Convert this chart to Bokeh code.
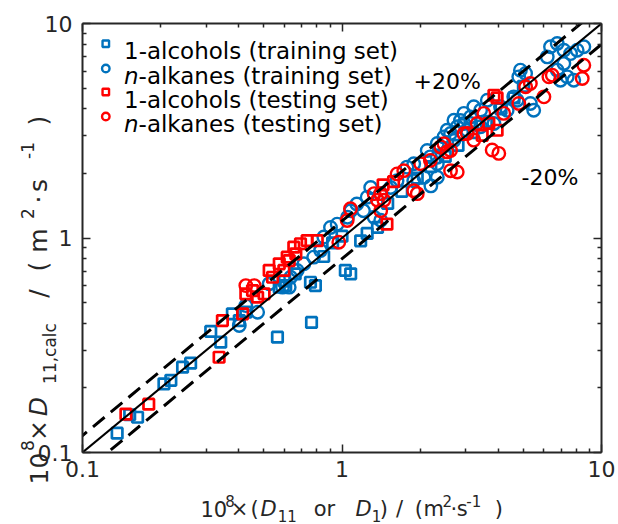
import math
from bokeh.plotting import figure
from bokeh.layouts import column
from bokeh.models import FixedTicker, CustomJSTickFormatter, LogAxis, Range1d
from bokeh.core.properties import value
from bokeh.embed import file_html
from bokeh.resources import INLINE

# ---------------- data (10^8 x D, m^2/s) ----------------
# 1-alcohols, training set
alc_train_x = [0.136, 0.152, 0.163, 0.206, 0.219, 0.243, 0.261, 0.312, 0.341, 0.378, 0.402, 0.426,
               0.564, 0.573, 0.607, 0.600, 0.660, 0.763, 0.756, 0.790, 1.03, 1.08, 0.85, 0.92, 1.00,
               1.18, 1.25, 1.37, 1.50, 1.70, 1.95, 2.20, 2.50, 2.80, 3.20, 3.60, 4.10, 4.60, 5.00]
alc_train_y = [0.123, 0.150, 0.146, 0.209, 0.217, 0.250, 0.261, 0.367, 0.327, 0.443, 0.412, 0.451,
               0.345, 0.590, 0.600, 0.630, 0.680, 0.404, 0.622, 0.600, 0.706, 0.681, 0.82, 0.95, 1.02,
               0.97, 1.05, 1.12, 1.45, 1.65, 1.90, 2.15, 2.40, 2.70, 3.10, 3.50, 4.00, 4.50, 5.10]

# n-alkanes, training set
alk_train_x = [0.402, 0.426, 0.473, 0.524, 0.590, 0.626, 0.634, 0.672, 0.713, 0.778, 0.827, 0.851,
               0.903, 0.958, 1.05, 1.08, 1.14, 1.21, 1.25, 1.29, 1.33, 1.41, 1.41, 1.54, 1.63, 1.78,
               1.89, 1.89, 2.07, 2.20, 2.33, 2.13, 2.33, 2.40, 2.70, 2.86, 3.04, 2.19, 2.33, 2.33,
               2.47, 2.54, 2.62, 2.70, 2.78, 2.95, 2.95, 3.13, 3.13, 3.22, 3.42, 3.42, 3.63, 3.85,
               4.08, 4.33, 4.59, 4.73, 5.32, 5.48, 4.80, 4.87, 5.10, 6.18, 6.36, 6.75, 7.16, 7.60,
               8.06, 8.55, 7.16, 6.75, 7.38, 7.82, 6.95]
alk_train_y = [0.391, 0.484, 0.451, 0.612, 0.590, 0.590, 0.656, 0.706, 0.758, 0.814, 0.874, 1.01,
               1.12, 1.16, 1.25, 1.34, 1.44, 1.34, 1.55, 1.72, 1.25, 1.21, 1.61, 1.72, 1.85, 2.14,
               2.22, 1.85, 1.92, 1.75, 1.92, 2.56, 2.38, 2.65, 2.85, 3.53, 3.17, 2.39, 2.22, 2.76,
               2.96, 3.18, 3.07, 3.54, 3.30, 3.42, 3.81, 3.67, 3.42, 4.09, 3.94, 3.30, 4.39, 3.42,
               4.09, 3.94, 4.55, 4.39, 4.24, 3.94, 5.64, 6.06, 5.85, 6.99, 7.79, 8.07, 7.51, 7.24,
               7.51, 7.79, 6.51, 6.06, 5.64, 5.44, 5.44]

# 1-alcohols, testing set
alc_test_x = [0.147, 0.180, 0.336, 0.346, 0.414, 0.426, 0.452, 0.473, 0.501, 0.524, 0.573, 0.626,
              0.664, 0.540, 0.615, 0.652, 0.692, 0.734, 0.803, 0.597, 1.49, 1.44, 1.58, 3.85, 3.47,
              3.96, 3.68, 3.96]
alc_test_y = [0.151, 0.168, 0.278, 0.412, 0.443, 0.549, 0.569, 0.530, 0.549, 0.706, 0.758, 0.785,
              0.844, 0.656, 0.814, 0.906, 0.940, 0.973, 0.973, 0.706, 1.16, 1.77, 1.83, 4.63, 3.01,
              3.18, 3.42, 4.50]

# n-alkanes, testing set
alk_test_x = [0.426, 0.459, 0.972, 1.047, 1.078, 1.37, 1.41, 1.33, 1.41, 1.45, 1.63, 1.73, 1.89,
              1.95, 2.01, 2.19, 2.62, 2.78, 2.47, 2.62, 2.95, 3.79, 4.02, 2.40, 2.54, 3.04, 3.32,
              3.22, 3.52, 4.20, 4.80, 5.10, 5.32, 6.00, 6.27, 6.46, 8.43, 8.55]
alk_test_y = [0.600, 0.600, 0.956, 1.206, 1.368, 1.50, 1.34, 1.61, 1.61, 1.50, 1.99, 2.06, 1.66,
              1.61, 2.22, 2.30, 2.06, 2.03, 2.75, 2.56, 3.06, 2.57, 2.48, 2.66, 2.52, 3.07, 3.42,
              2.86, 3.81, 3.81, 4.24, 5.07, 5.25, 4.55, 5.64, 5.74, 5.54, 6.39]

series_labels = ["1-alcohols (training set)", "n-alkanes (training set)",
                 "1-alcohols (testing set)", "n-alkanes (testing set)"]

major_ticks = [0.1, 1, 10]
minor_ticks = [0.2, 0.3, 0.4, 0.5, 0.6, 0.7, 0.8, 0.9, 2, 3, 4, 5, 6, 7, 8, 9]
parity_x = [0.05, 20]
band = 0.2  # +/-20 %

# ---------------- styling / layout ----------------
FONT = "DejaVu Sans"
BLUE = "#0072BD"
RED = "#FF0000"
INK = "#262626"
W, H = 618, 524
FL, FR, FT, FB = 82, 601, 23, 452   # frame edges in canvas px

p = figure(width=W, height=H, x_axis_type="log", y_axis_type="log",
           x_range=Range1d(0.1, 10), y_range=Range1d(0.1, 10),
           output_backend="svg", toolbar_location=None,
           min_border_left=FL, min_border_right=W - FR,
           min_border_top=FT, min_border_bottom=H - FB)
p.grid.visible = False
p.outline_line_color = None
p.background_fill_color = "white"
p.border_fill_color = "white"
p.frame_align = False


def style_axis(ax, show_labels):
    ax.ticker = FixedTicker(ticks=major_ticks, minor_ticks=minor_ticks)
    ax.axis_line_width = 2
    ax.axis_line_color = INK
    ax.major_tick_in = 8
    ax.major_tick_out = 0
    ax.minor_tick_in = 4
    ax.minor_tick_out = 0
    ax.major_tick_line_width = 1.5
    ax.minor_tick_line_width = 1.5
    ax.major_tick_line_color = INK
    ax.minor_tick_line_color = INK
    if show_labels:
        ax.formatter = CustomJSTickFormatter(code="return String(tick);")
        ax.major_label_text_font = FONT
        ax.major_label_text_font_size = "22px"
        ax.major_label_text_color = INK
    else:
        ax.formatter = CustomJSTickFormatter(code="return '';")
        ax.major_label_text_font_size = "1px"


style_axis(p.xaxis[0], True)
style_axis(p.yaxis[0], True)
p.xaxis[0].major_label_standoff = 8
p.yaxis[0].major_label_standoff = 10
top_ax = LogAxis()
right_ax = LogAxis()
style_axis(top_ax, False)
style_axis(right_ax, False)
p.add_layout(top_ax, "above")
p.add_layout(right_ax, "right")

# ---------------- data marks ----------------
p.scatter(alc_train_x, alc_train_y, marker="square", size=10.5, line_width=2.7,
          line_color=BLUE, fill_color=None)
p.scatter(alk_train_x, alk_train_y, marker="circle", size=12.5, line_width=2.4,
          line_color=BLUE, fill_color=None)
p.scatter(alc_test_x, alc_test_y, marker="square", size=10.5, line_width=2.7,
          line_color=RED, fill_color=None)
p.scatter(alk_test_x, alk_test_y, marker="circle", size=12.5, line_width=2.4,
          line_color=RED, fill_color=None)

p.line(parity_x, parity_x, line_color="black", line_width=2)
p.line(parity_x, [v * (1 + band) for v in parity_x], line_color="black",
       line_width=3, line_dash="15 8")
p.line(parity_x, [v * (1 - band) for v in parity_x], line_color="black",
       line_width=3, line_dash="15 8")

# ---------------- transparent overlay for free text (canvas px coords) ----------------
ov = figure(width=W, height=H, x_range=Range1d(0, W), y_range=Range1d(0, H),
            x_axis_type=None, y_axis_type=None, output_backend="svg",
            toolbar_location=None, min_border=0)
ov.title.visible = False
ov.grid.visible = False
ov.outline_line_color = None
ov.background_fill_color = None
ov.border_fill_color = None
ov.frame_align = False
ov.margin = (-H, 0, 0, 0)


def put(text, cx, cy, size, style="normal", align="left", angle=0.0, color="black"):
    ov.text(x=[cx], y=[H - cy], text=[text], text_font=value(FONT),
            text_font_size=value(f"{size}px"), text_font_style=value(style),
            text_align=value(align), text_baseline=value("alphabetic"),
            angle=angle, text_color=color)


# legend (manual, for the italic n)
leg_marker_cx = 105.3
leg_rows_cy = [43.3, 68.0, 91.5, 116.0]
leg_markers = [("square", BLUE), ("circle", BLUE), ("square", RED), ("circle", RED)]
for (mk, col), cy in zip(leg_markers, leg_rows_cy):
    ov.scatter([leg_marker_cx], [H - cy], marker=mk,
               size=6.5 if mk == "square" else 7.5, line_width=2.4,
               line_color=col, fill_color=None)
LEG_FS = 23
for lab, cy in zip(series_labels, leg_rows_cy):
    base = cy + 7.5
    if lab.startswith("n-"):
        put("n", 123.5, base, LEG_FS, style="italic")
        put(lab[1:], 123.5 + 0.634 * LEG_FS, base, LEG_FS)
    else:
        put(lab, 123.5, base, LEG_FS)

put("+20%", 413, 81, 22)
put("-20%", 521, 177, 22)

# x-axis title: 10^8×(D11 or D1) / (m^2·s^-1)
XM, XS = 21, 15
x_base = {"main": 508.5, "sup": 500.0, "sub": 515.0}
x_pieces = [("10", 213.3, "main", "normal"), ("8", 229.5, "sup", "normal"),
            ("×", 239.0, "main", "normal"), ("(", 254.0, "main", "normal"),
            ("D", 268.0, "main", "italic"), ("11", 286.7, "sub", "normal"),
            ("or", 324.0, "main", "normal"), ("D", 363.0, "main", "italic"),
            ("1", 376.0, "sub", "normal"), (")", 383.3, "main", "normal"),
            ("/", 399.0, "main", "normal"), ("(", 418.3, "main", "normal"),
            ("m", 433.3, "main", "normal"), ("2", 446.7, "sup", "normal"),
            ("·", 453.3, "main", "normal"), ("s", 461.7, "main", "normal"),
            ("-1", 473.3, "sup", "normal"), (")", 498.3, "main", "normal")]
for t, cx, kind, st in x_pieces:
    put(t, cx, x_base[kind], XM if kind == "main" else XS, style=st, align="center",
        color=INK)

# y-axis title: 10^8×D11,calc / (m^2·s^-1)
YM, YS = 25, 17
y_base = {"main": 38.0, "sup": 27.0, "sub": 49.0}
y_pieces = [("10", 468, "main", "normal"), ("8", 445, "sup", "normal"),
            ("×", 430, "main", "normal"), ("D", 406, "main", "italic"),
            ("11,calc", 353, "sub", "normal"), ("/", 293, "main", "normal"),
            ("(", 266, "main", "normal"), ("m", 240, "main", "normal"),
            ("2", 213, "sup", "normal"), ("·", 199, "main", "normal"),
            ("s", 185, "main", "normal"), ("-1", 150, "sup", "normal"),
            (")", 120, "main", "normal")]
for t, cy, kind, st in y_pieces:
    put(t, y_base[kind], cy, YM if kind == "main" else YS, style=st, align="center",
        angle=math.pi / 2, color=INK)

root = column(p, ov, spacing=0)
open("out.html", "w").write(file_html(root, INLINE))
